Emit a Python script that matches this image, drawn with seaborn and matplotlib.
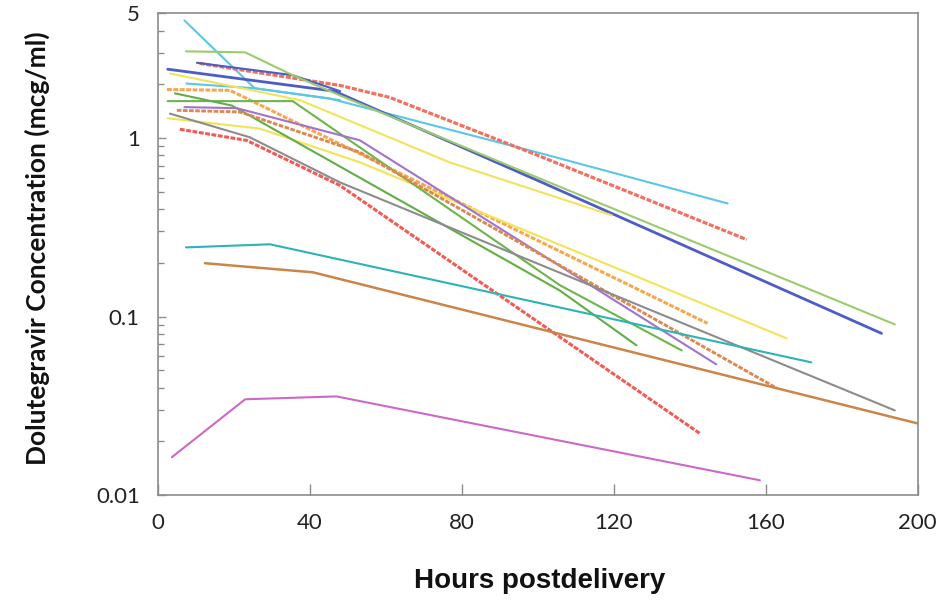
import numpy as np
import pandas as pd
import matplotlib
matplotlib.use("Agg")
import matplotlib.pyplot as plt
import seaborn as sns
from matplotlib.ticker import LogLocator, NullFormatter

# hours postdelivery / dolutegravir concentration (mcg/ml), one pair per infant
hrs_a = [7, 25.5, 45, 100, 150]
conc_a = [4.56, 1.90, 1.67, 0.83, 0.43]
hrs_b = [7.5, 25.5, 48]
conc_b = [2.02, 1.90, 1.63]
hrs_c = [11, 48, 61, 100, 155]
conc_c = [2.62, 1.97, 1.69, 0.80, 0.27]
hrs_d = [2.6, 46.5, 100.5, 190.5]
conc_d = [2.43, 1.83, 0.572, 0.0805]
hrs_e = [10.3, 35.5, 48]
conc_e = [2.64, 2.25, 1.83]
hrs_f = [7.4, 23, 35.5, 48, 100.5, 194]
conc_f = [3.06, 3.02, 2.25, 1.73, 0.594, 0.0904]
hrs_g = [2.4, 19, 144.7]
conc_g = [1.87, 1.85, 0.0916]
hrs_h = [3.2, 37.4, 76.8, 119.5]
conc_h = [2.30, 1.63, 0.731, 0.369]
hrs_i = [2.6, 26.8, 53.2, 165.5]
conc_i = [1.29, 1.13, 0.731, 0.0755]
hrs_j = [2.6, 35.5, 105.8, 137.9]
conc_j = [1.61, 1.61, 0.150, 0.0646]
hrs_k = [4.5, 19.5, 105.8, 126]
conc_k = [1.78, 1.52, 0.140, 0.069]
hrs_l = [7, 20.8, 53.2, 147]
conc_l = [1.49, 1.47, 0.971, 0.054]
hrs_m = [5, 21.6, 53.2, 163]
conc_m = [1.43, 1.40, 0.832, 0.0396]
hrs_n = [3.2, 24.2, 47.9, 194]
conc_n = [1.37, 1.01, 0.565, 0.0298]
hrs_o = [5.8, 23.4, 47.9, 142.6]
conc_o = [1.12, 0.97, 0.543, 0.0222]
hrs_p = [7.4, 29.5, 172]
conc_p = [0.244, 0.254, 0.0554]
hrs_q = [12.4, 28.7, 40.8, 200]
conc_q = [0.199, 0.186, 0.177, 0.0252]
hrs_r = [3.7, 23, 47, 158.5]
conc_r = [0.0163, 0.0344, 0.0357, 0.0121]

subjects = {
    "a": (hrs_a, conc_a), "b": (hrs_b, conc_b), "c": (hrs_c, conc_c),
    "d": (hrs_d, conc_d), "e": (hrs_e, conc_e), "f": (hrs_f, conc_f),
    "g": (hrs_g, conc_g), "h": (hrs_h, conc_h), "i": (hrs_i, conc_i),
    "j": (hrs_j, conc_j), "k": (hrs_k, conc_k), "l": (hrs_l, conc_l),
    "m": (hrs_m, conc_m), "n": (hrs_n, conc_n), "o": (hrs_o, conc_o),
    "p": (hrs_p, conc_p), "q": (hrs_q, conc_q), "r": (hrs_r, conc_r),
}

colors = {
    "a": "#5cc6e6", "b": "#5cc6e6", "c": "#f2705f", "d": "#4d5cc6",
    "e": "#4d5cc6", "f": "#9ccb6c", "g": "#f6a850", "h": "#f0e45c",
    "i": "#f2e45a", "j": "#6db44b", "k": "#62ad45", "l": "#a173cf",
    "m": "#d98a52", "n": "#8c8c8c", "o": "#f25a55", "p": "#2db3b5",
    "q": "#cc8548", "r": "#cc68c8",
}
textured = ["c", "g", "m", "o"]
thick = {"c": 2.3, "g": 2.2, "m": 2.1, "o": 2.2, "d": 2.0, "q": 1.8}

rows = []
for sid, (hrs, conc) in subjects.items():
    for h, c in zip(hrs, conc):
        rows.append({"id": sid, "hours": h, "conc": c})
df = pd.DataFrame(rows)

dash_map = {s: ((1.6, 0.5) if s in textured else "") for s in subjects}
size_map = {s: thick.get(s, 1.5) for s in subjects}

sns.set_style("white")
fig, ax = plt.subplots(figsize=(9.45, 6.03), dpi=100)
fig.subplots_adjust(left=0.167, right=0.971, top=0.978, bottom=0.179)

sns.lineplot(data=df, x="hours", y="conc", hue="id", style="id", size="id",
             palette=colors, dashes=dash_map, sizes=size_map,
             estimator=None, sort=False, legend=False, ax=ax)

ax.set_yscale("log")
ax.set_xlim(0, 200)
ax.set_ylim(0.01, 5)
ax.set_xticks([0, 40, 80, 120, 160, 200])
ax.set_yticks([0.01, 0.1, 1, 5])
ax.set_yticklabels(["0.01", "0.1", "1", "5"])
ax.yaxis.set_minor_locator(LogLocator(base=10, subs=np.arange(2, 10)))
ax.yaxis.set_minor_formatter(NullFormatter())

tick_font = "Lato"
ax.tick_params(axis="x", which="major", direction="in", length=8, width=1,
               color="#8c8c8c", labelsize=16, pad=13, bottom=True)
ax.tick_params(axis="y", which="major", direction="in", length=6, width=1,
               color="#8c8c8c", labelsize=16, pad=13, left=True)
ax.tick_params(axis="y", which="minor", direction="in", length=4, width=1,
               color="#8c8c8c", left=True)
for lab in ax.get_xticklabels() + ax.get_yticklabels():
    lab.set_fontfamily(tick_font)
    lab.set_color("#222222")

for sp in ax.spines.values():
    sp.set_visible(True)
    sp.set_color("#8c8c8c")
    sp.set_linewidth(1.2)

ax.set_xlabel("Hours postdelivery", fontsize=20, fontweight="bold",
              family="Liberation Sans", color="#111111")
ax.xaxis.set_label_coords(0.503, -0.151)
ax.xaxis.label.set_va("top")
ax.set_ylabel("Dolutegravir Concentration (mcg/ml)", fontsize=19, fontweight="bold",
              family="Lato", color="#111111")
ax.yaxis.set_label_coords(-0.142, 0.512)

fig.savefig("out.png", dpi=100)
